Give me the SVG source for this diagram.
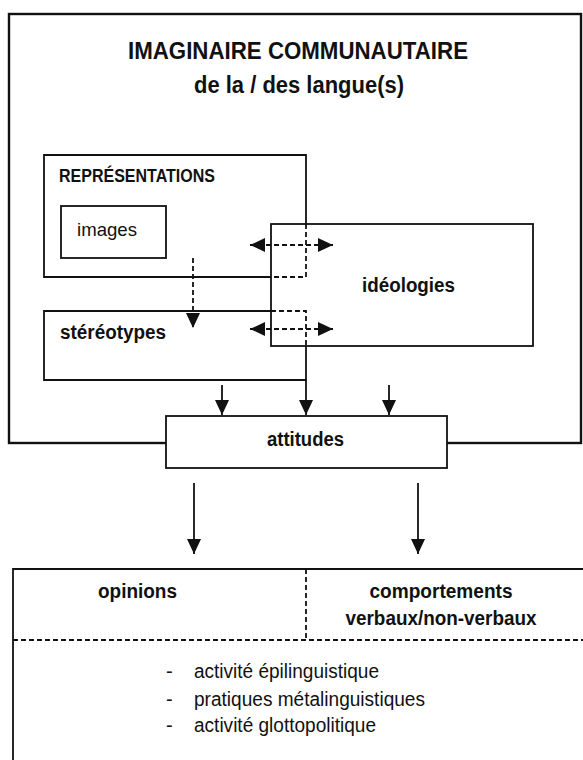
<svg xmlns="http://www.w3.org/2000/svg" width="583" height="760" viewBox="0 0 583 760">
<style>
  .box { fill: none; stroke: #111; stroke-width: 1.8; }
  .wbox { fill: #fff; stroke: #111; stroke-width: 1.8; }
  .dash { fill: none; stroke: #111; stroke-width: 1.8; stroke-dasharray: 5 3; }
  .line { fill: none; stroke: #111; stroke-width: 1.8; }
  text { font-family: "Liberation Sans", Arial, sans-serif; fill: #111; }
  .b { font-weight: bold; }
</style>
<defs>
  <marker id="ah" markerUnits="userSpaceOnUse" markerWidth="15" markerHeight="14" viewBox="0 0 15 14" refX="15" refY="7" orient="auto-start-reverse">
    <path d="M0,0 L15,7 L0,14 Z" fill="#111"/>
  </marker>
</defs>
<rect width="583" height="760" fill="#fff"/>

<g id="imaginaire">
  <rect x="9" y="14" width="572" height="429" fill="none" stroke="#111" stroke-width="2.4"/>
  <text class="b" x="298" y="59" font-size="23" text-anchor="middle" textLength="340" lengthAdjust="spacingAndGlyphs">IMAGINAIRE COMMUNAUTAIRE</text>
  <text class="b" x="299" y="93" font-size="23" text-anchor="middle" textLength="210" lengthAdjust="spacingAndGlyphs">de la / des langue(s)</text>
</g>

<g id="representations">
  <path class="line" d="M271,277 H44 V155 H306 V224"/>
  <path class="dash" d="M306,224 V277 H271"/>
  <text class="b" x="59" y="182" font-size="18" textLength="156" lengthAdjust="spacingAndGlyphs">REPRÉSENTATIONS</text>
</g>

<g id="images">
  <rect class="box" x="61" y="206" width="105" height="52"/>
  <text x="77" y="236" font-size="19" textLength="60" lengthAdjust="spacingAndGlyphs">images</text>
</g>

<g id="stereotypes">
  <path class="line" d="M271,311 H44 V380 H306 V346"/>
  <path class="dash" d="M271,311 H306 V346"/>
  <text class="b" x="60" y="339" font-size="20" textLength="106" lengthAdjust="spacingAndGlyphs">stéréotypes</text>
</g>

<g id="ideologies">
  <rect class="box" x="271" y="224" width="262" height="122"/>
  <text class="b" x="362" y="292" font-size="20" textLength="93" lengthAdjust="spacingAndGlyphs">idéologies</text>
</g>

<g id="attitudes">
  <rect class="wbox" x="166" y="416" width="281" height="52"/>
  <text class="b" x="267" y="446" font-size="20" textLength="77" lengthAdjust="spacingAndGlyphs">attitudes</text>
</g>

<g id="resultats">
  <path class="line" d="M13,760 V569 H583"/>
  <line class="dash" x1="306" y1="569" x2="306" y2="640"/>
  <line class="dash" x1="13" y1="640" x2="583" y2="640" stroke-dasharray="6 3"/>
  <text class="b" x="98" y="598" font-size="20" textLength="79" lengthAdjust="spacingAndGlyphs">opinions</text>
  <text class="b" x="441" y="598" font-size="20" text-anchor="middle" textLength="143" lengthAdjust="spacingAndGlyphs">comportements</text>
  <text class="b" x="441" y="625" font-size="20" text-anchor="middle" textLength="191" lengthAdjust="spacingAndGlyphs">verbaux/non-verbaux</text>
  <text x="166" y="678" font-size="20">-</text>
  <text x="194" y="678" font-size="20" textLength="185" lengthAdjust="spacingAndGlyphs">activité épilinguistique</text>
  <text x="166" y="706" font-size="20">-</text>
  <text x="194" y="706" font-size="20" textLength="231" lengthAdjust="spacingAndGlyphs">pratiques métalinguistiques</text>
  <text x="166" y="732" font-size="20">-</text>
  <text x="194" y="732" font-size="20" textLength="182" lengthAdjust="spacingAndGlyphs">activité glottopolitique</text>
</g>

<g id="connectors">
  <line class="dash" x1="250" y1="245" x2="333" y2="245" marker-start="url(#ah)" marker-end="url(#ah)"/>
  <line class="dash" x1="250" y1="329" x2="333" y2="329" marker-start="url(#ah)" marker-end="url(#ah)"/>
  <line class="dash" x1="193" y1="258" x2="193" y2="328" marker-end="url(#ah)"/>
  <line class="line" x1="222" y1="385" x2="222" y2="415" marker-end="url(#ah)"/>
  <line class="line" x1="306" y1="380" x2="306" y2="415" marker-end="url(#ah)"/>
  <line class="line" x1="389" y1="385" x2="389" y2="415" marker-end="url(#ah)"/>
  <line class="line" x1="194" y1="483" x2="194" y2="554" marker-end="url(#ah)"/>
  <line class="line" x1="418" y1="483" x2="418" y2="554" marker-end="url(#ah)"/>
</g>
</svg>
